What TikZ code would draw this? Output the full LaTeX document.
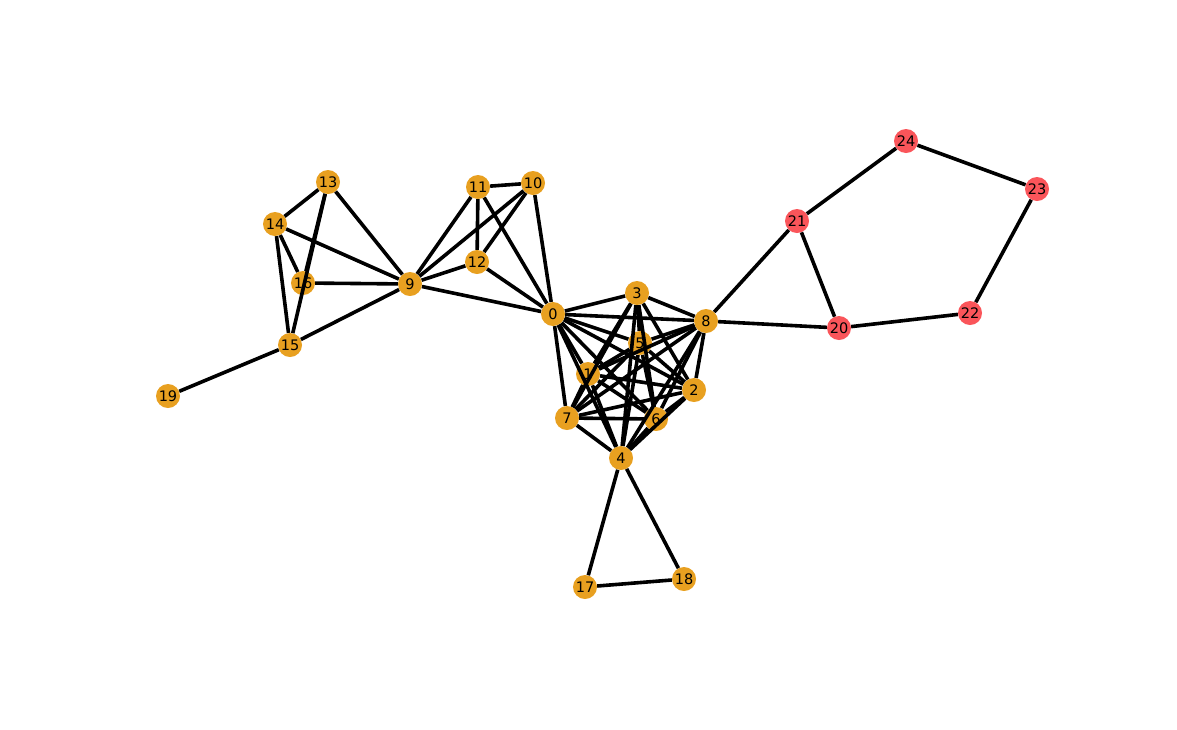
\documentclass[tikz,border=0pt]{standalone}
\usepackage{fontspec}
\setmainfont{DejaVu Sans}
\definecolor{nodeorange}{RGB}{232,160,32}
\definecolor{nodered}{RGB}{250,85,90}
\begin{document}
\begin{tikzpicture}[x=1pt,y=-1pt,
  vtx/.style={circle,fill=nodeorange,minimum size=24pt,inner sep=0pt,font=\fontsize{14.5}{14.5}\selectfont},
  vtxr/.style={vtx,fill=nodered},
  edge/.style={line width=3.6pt,black}]
\useasboundingbox (0,0) rectangle (1177,729);
\node[vtx] (n0) at (553,314) {0};
\node[vtx] (n1) at (588,374) {1};
\node[vtx] (n2) at (694,390) {2};
\node[vtx] (n3) at (637,293) {3};
\node[vtx] (n4) at (621,458) {4};
\node[vtx] (n5) at (640,343) {5};
\node[vtx] (n6) at (656,419) {6};
\node[vtx] (n7) at (567,418) {7};
\node[vtx] (n8) at (706,321) {8};
\node[vtx] (n9) at (410,284) {9};
\node[vtx] (n10) at (533,183) {10};
\node[vtx] (n11) at (478,187) {11};
\node[vtx] (n12) at (477,262) {12};
\node[vtx] (n13) at (328,182) {13};
\node[vtx] (n14) at (275,224) {14};
\node[vtx] (n15) at (290,345) {15};
\node[vtx] (n16) at (303,283) {16};
\node[vtx] (n17) at (585,587) {17};
\node[vtx] (n18) at (684,579) {18};
\node[vtx] (n19) at (168,396) {19};
\node[vtxr] (n20) at (839,328) {20};
\node[vtxr] (n21) at (797,221) {21};
\node[vtxr] (n22) at (970,313) {22};
\node[vtxr] (n23) at (1037,189) {23};
\node[vtxr] (n24) at (906,141) {24};
\foreach \a/\b in {0/1,0/2,0/3,0/4,0/5,0/6,0/7,0/8,
  1/2,1/3,1/4,1/5,1/6,1/7,1/8,
  2/3,2/4,2/5,2/6,2/7,2/8,
  3/4,3/5,3/6,3/7,3/8,
  4/5,4/6,4/7,4/8,
  5/6,5/7,5/8,
  6/7,6/8,7/8,
  0/9,0/10,0/11,0/12,9/10,9/11,9/12,10/11,10/12,11/12,
  9/13,9/14,9/15,9/16,13/14,13/15,13/16,14/15,14/16,15/19,
  4/17,4/18,17/18,
  8/20,8/21,20/21,21/24,24/23,23/22,22/20}
  \draw[edge] (n\a) -- (n\b);
\end{tikzpicture}
\end{document}
